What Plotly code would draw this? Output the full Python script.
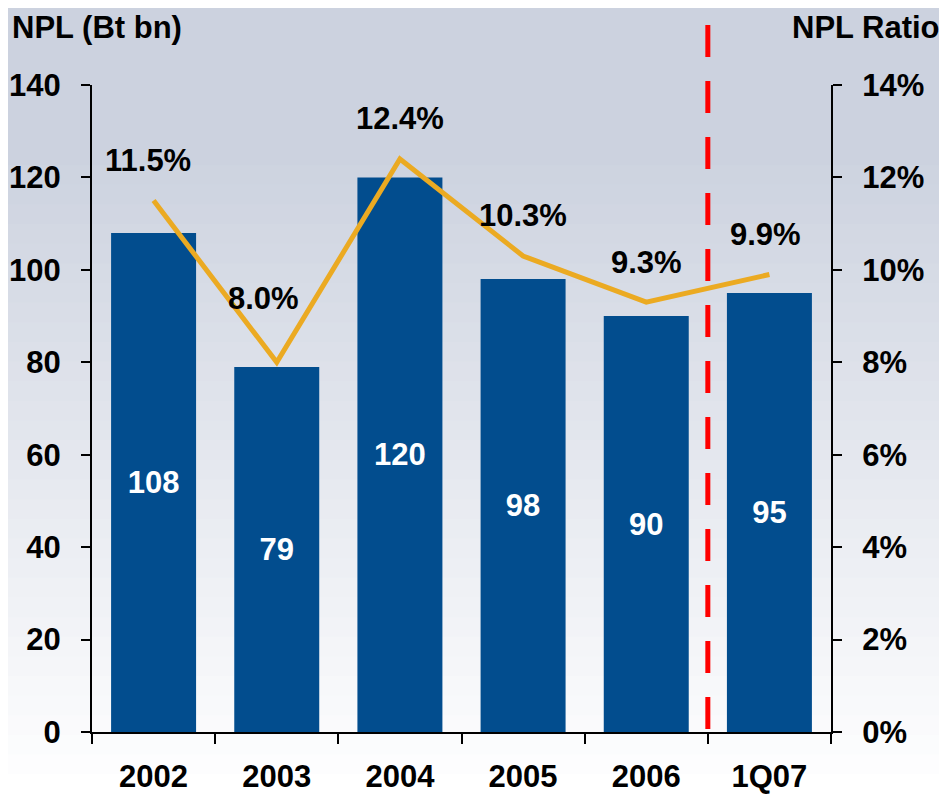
import plotly.graph_objects as go

# data
periods = ["2002", "2003", "2004", "2005", "2006", "1Q07"]
npl_bn = [108, 79, 120, 98, 90, 95]
npl_ratio = [11.5, 8.0, 12.4, 10.3, 9.3, 9.9]
ratio_labels = ["11.5%", "8.0%", "12.4%", "10.3%", "9.3%", "9.9%"]

left_ticks = [0, 20, 40, 60, 80, 100, 120, 140]
right_ticks = [0, 2, 4, 6, 8, 10, 12, 14]
right_tick_text = ["0%", "2%", "4%", "6%", "8%", "10%", "12%", "14%"]

FONT = "Liberation Sans, Arial, sans-serif"
FS = 31
BAR_BLUE = "#024D8E"
GOLD = "#EBAA22"

# page has an 8px body margin, so the figure is a bit smaller than the window
W, H = 939, 786
ML, MR, MT, MB = 84, 116, 77, 62
PH = H - MT - MB

fig = go.Figure()

fig.add_trace(go.Bar(
    x=periods,
    y=npl_bn,
    marker=dict(color=BAR_BLUE, line=dict(width=0)),
    text=[str(v) for v in npl_bn],
    textposition="inside",
    insidetextanchor="middle",
    textfont=dict(family=FONT, size=FS, color="white"),
    texttemplate="<b>%{text}</b>",
    showlegend=False,
))

fig.add_trace(go.Scatter(
    x=periods,
    y=npl_ratio,
    yaxis="y2",
    mode="lines",
    line=dict(color=GOLD, width=5),
    showlegend=False,
))

# percentage labels above the line
for i, (r, lab) in enumerate(zip(npl_ratio, ratio_labels)):
    xs, ys = 0, 40
    if lab == "8.0%":
        xs, ys = -13, 64
    elif lab == "11.5%":
        xs = -6
    elif lab == "9.9%":
        xs = -4
    fig.add_annotation(
        x=i, y=r, xref="x", yref="y2", text="<b>" + lab + "</b>",
        showarrow=False, xshift=xs, yshift=ys,
        font=dict(family=FONT, size=FS, color="black"),
    )

# background gradient (light blue-grey at top fading to white)
n_bands = 40
top = (204, 210, 223)
bot = (255, 255, 255)
y_lo, y_hi = -MB / PH, 1 + MT / PH
for k in range(n_bands):
    f = k / (n_bands - 1)
    f2 = min(1.0, f * 1.2)
    c = tuple(int(bot[j] + (top[j] - bot[j]) * f2) for j in range(3))
    fig.add_shape(
        type="rect", xref="paper", yref="paper", layer="below",
        x0=-0.2, x1=1.3,
        y0=y_lo + (y_hi - y_lo) * k / n_bands,
        y1=y_lo + (y_hi - y_lo) * (k + 1) / n_bands + 0.002,
        fillcolor="rgb(%d,%d,%d)" % c, line=dict(width=0),
    )

# red dashed divider between 2006 and 1Q07
fig.add_shape(
    type="line", xref="paper", yref="paper",
    x0=5 / 6, x1=5 / 6, y0=3 / PH, y1=(PH + MT - 17) / PH,
    line=dict(color="#FF0000", width=5, dash="32px,24px"),
)

fig.add_annotation(
    x=-82 / 739, y=(PH + MT - 20) / PH, xref="paper", yref="paper",
    xanchor="left", yanchor="middle",
    text="<b>NPL (Bt bn)</b>", showarrow=False,
    font=dict(family=FONT, size=FS, color="black"),
)
fig.add_annotation(
    x=850 / 739, y=(PH + MT - 20) / PH, xref="paper", yref="paper",
    xanchor="right", yanchor="middle",
    text="<b>NPL Ratio</b>", showarrow=False,
    font=dict(family=FONT, size=FS, color="black"),
)

axis_common = dict(
    showline=True, linecolor="black", linewidth=2,
    ticks="outside", tickwidth=2, tickcolor="black",
    tickfont=dict(family=FONT, size=FS),
    showgrid=False, zeroline=False, automargin=False,
)

fig.update_layout(
    width=W,
    height=H,
    margin=dict(l=ML, r=MR, t=MT, b=MB),
    paper_bgcolor="white",
    plot_bgcolor="rgba(0,0,0,0)",
    bargap=0.31,
    font=dict(family=FONT, color="black"),
    xaxis=dict(
        type="category",
        range=[-0.5, 5.5],
        tickvals=periods,
        ticktext=["<b>%s</b>" % p for p in periods],
        tickson="boundaries", ticklen=10, tickangle=0,
        ticklabelstandoff=16,
        **axis_common,
    ),
    yaxis=dict(
        range=[0, 140],
        tickvals=left_ticks,
        ticktext=["<b>%d</b>" % v for v in left_ticks],
        ticklen=9, ticklabelstandoff=14,
        **axis_common,
    ),
    yaxis2=dict(
        overlaying="y", side="right",
        range=[0, 14],
        tickvals=right_ticks,
        ticktext=["<b>%s</b>" % t for t in right_tick_text],
        ticklen=9, ticklabelstandoff=14,
        **axis_common,
    ),
)

fig.write_html("out.html")
